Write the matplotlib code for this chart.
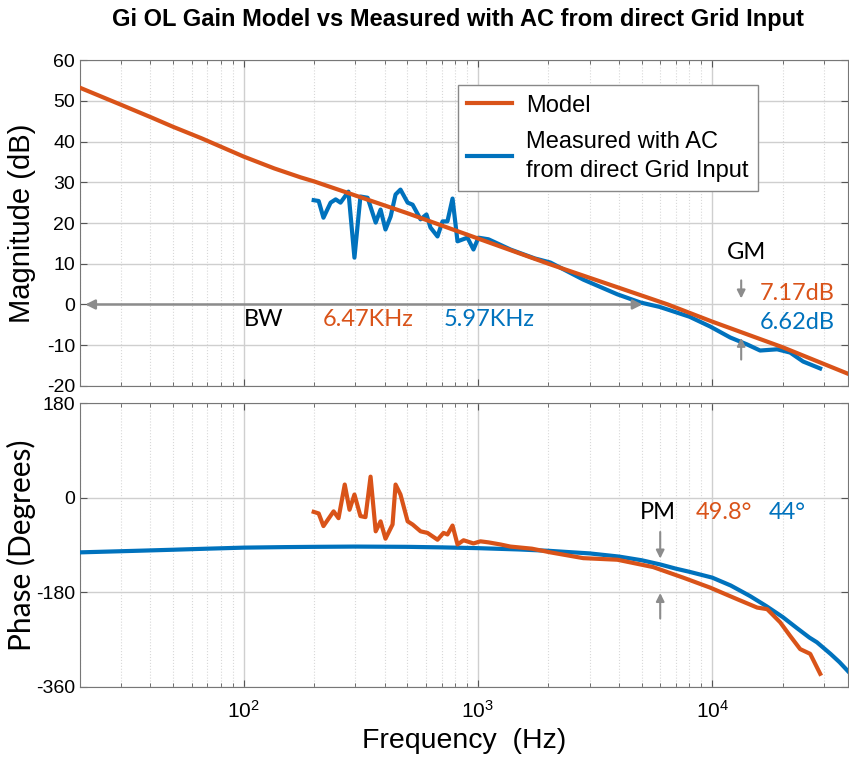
import matplotlib
matplotlib.use('Agg')
import matplotlib.pyplot as plt
from matplotlib.ticker import FixedLocator

# warna ala matlab
ORANGE = '#D95319'
BLUE = '#0072BD'
GREY = '#8c8c8c'

# magnitude model (dB)
f_model_mag = [20, 30, 40, 50, 66, 100, 135, 175, 200, 500, 1000, 2000, 5000, 6470, 10000, 20000, 38000]
mag_model = [53.2, 49.0, 46.0, 43.6, 40.8, 36.3, 33.4, 31.2, 30.2, 22.4, 16.2, 10.0, 2.2, 0, -4.2, -10.5, -17]

# magnitude measured (dB)
f_meas_mag = [199, 209, 219, 235, 247, 259, 280, 297, 315, 338, 366, 384, 403, 424,
              445, 467, 501, 526, 569, 603, 627, 672, 706, 741, 779, 818, 902, 957,
              1005, 1109, 1376, 1550, 1750, 2038, 2818, 3936, 4932, 5970, 8000,
              9800, 11940, 14090, 16020, 18940, 21520, 24450, 28900]
mag_meas = [25.6, 25.4, 21.3, 25.0, 25.8, 25.0, 27.7, 11.5, 26.5, 26.2, 20.1, 23.3, 18.4, 21.6,
            27.0, 28.2, 25.0, 24.5, 20.9, 22.1, 18.9, 16.7, 20.4, 20.4, 26.0, 15.5, 16.4, 13.5,
            16.4, 16.0, 13.5, 12.4, 11.3, 10.3, 6.1, 2.5, 0.5, -0.6, -3.0,
            -5.4, -8.1, -9.8, -11.3, -11.0, -11.8, -14.0, -15.7]

# phase model (deg)
f_model_ph = [20, 35, 50, 70, 100, 150, 200, 300, 500, 700, 1000, 1500, 2000, 3000,
              4000, 5000, 6000, 7000, 8000, 10000, 12000, 14500, 17000, 20000, 23000,
              26000, 28000, 32000, 35000, 38000]
ph_model = [-104, -101, -99, -97, -95, -94, -93.5, -93, -93.5, -94.5, -96, -98.5, -101, -106,
            -112, -119, -127, -135, -141, -152, -167, -187, -206, -227, -248,
            -266, -275, -297, -313, -330]

# phase measured (deg)
f_meas_ph = [199, 209, 219, 242, 254, 270, 283, 297, 315, 331, 348, 366, 384, 403,
             432, 445, 467, 501, 526, 569, 609, 672, 713, 741, 779, 818, 868, 957,
             1025, 1109, 1248, 1376, 1700, 2038, 2817, 3936, 5599, 7512, 9797, 12780,
             15560, 17170, 19510, 21530, 23750, 26210, 28920]
ph_meas = [-27, -30, -54, -26, -39, 25, -23, 6, -35, -37, 40, -64, -45, -78,
           -51, 25, 6, -45, -51, -64, -67, -80, -67, -70, -53, -89, -81, -87,
           -83, -85, -89, -93, -97, -104, -115, -118, -132, -152, -171, -193,
           -209, -212, -237, -263, -288, -297, -335]

plt.rcParams['font.family'] = ['Liberation Sans', 'DejaVu Sans']
plt.rcParams['axes.unicode_minus'] = False

fig = plt.figure(figsize=(8.49, 7.58), dpi=100)
ax1 = fig.add_axes([0.0942, 0.4908, 0.9046, 0.4300])
ax2 = fig.add_axes([0.0942, 0.0937, 0.9046, 0.3746], sharex=ax1)

ax1.plot(f_model_mag, mag_model, color=ORANGE, lw=3, label='Model', zorder=4)
ax1.plot(f_meas_mag, mag_meas, color=BLUE, lw=3,
         label='Measured with AC\nfrom direct Grid Input', zorder=3)
ax2.plot(f_model_ph, ph_model, color=BLUE, lw=3, zorder=3)
ax2.plot(f_meas_ph, ph_meas, color=ORANGE, lw=3, zorder=4)

for ax in (ax1, ax2):
    ax.set_xscale('log')
    ax.set_xlim(20, 38000)
    ax.grid(True, which='major', color='#cfcfcf', lw=1, ls='-')
    ax.grid(True, which='minor', axis='x', color='#d8d8d8', lw=0.8, ls=':')
    ax.tick_params(which='both', direction='in', top=True, right=True,
                   colors='#555555', labelcolor='black', labelsize=14)
    ax.tick_params(which='major', length=5)
    ax.tick_params(which='minor', length=3)
    for s in ax.spines.values():
        s.set_color('#777777')

ax1.set_ylim(-20, 60)
ax1.yaxis.set_major_locator(FixedLocator([-20, -10, 0, 10, 20, 30, 40, 50, 60]))
ax1.tick_params(labelbottom=False)
ax2.set_ylim(-360, 180)
ax2.yaxis.set_major_locator(FixedLocator([-360, -180, 0, 180]))
ax2.tick_params(axis='x', which='major', pad=9, labelsize=15)

ax1.set_ylabel('Magnitude (dB)', fontsize=21)
ax2.set_ylabel('Phase (Degrees)', family='Lato', fontsize=21.5)
ax1.yaxis.set_label_coords(-0.057, 0.5)
ax2.yaxis.set_label_coords(-0.057, 0.5)
ax2.set_xlabel('Frequency  (Hz)', fontsize=20.5, labelpad=5)
fig.suptitle('Gi OL Gain Model vs Measured with AC from direct Grid Input',
             fontsize=17, fontweight='bold', x=0.54, y=0.99)

leg = ax1.legend(loc='upper left', bbox_to_anchor=(0.492, 0.923), fontsize=17,
                 frameon=True, fancybox=False, framealpha=1, edgecolor='#888888',
                 handlelength=1.9, handletextpad=0.6, borderpad=0.4, labelspacing=0.6,
                 borderaxespad=0)
leg.get_texts()[1].set_linespacing(1.4)

# anotasi BW
ax1.annotate('', xy=(20.5, 0), xytext=(5180, 0),
             arrowprops=dict(arrowstyle='<|-|>', color=GREY, lw=1.8, mutation_scale=14))
tf = dict(family='Lato', fontsize=17, ha='center', va='center')
ax1.text(122, -3.7, 'BW', color='black', **tf)
ax1.text(341, -3.7, '6.47KHz', color=ORANGE, **tf)
ax1.text(1119, -3.7, '5.97KHz', color=BLUE, **tf)

# anotasi GM
ax1.text(14000, 12.8, 'GM', color='black', **tf)
ax1.text(23000, 2.8, '7.17dB', color=ORANGE, **tf)
ax1.text(23000, -4.4, '6.62dB', color=BLUE, **tf)
ax1.annotate('', xy=(13300, 0.8), xytext=(13300, 6.6),
             arrowprops=dict(arrowstyle='-|>', color=GREY, lw=1.5, mutation_scale=12))
ax1.annotate('', xy=(13300, -7.5), xytext=(13300, -14.2),
             arrowprops=dict(arrowstyle='-|>', color=GREY, lw=1.5, mutation_scale=12))

# anotasi PM
ax2.text(5890, -28, 'PM', color='black', **tf)
ax2.text(11250, -28, '49.8°', color=ORANGE, **tf)
ax2.text(20900, -28, '44°', color=BLUE, **tf)
ax2.annotate('', xy=(6000, -121), xytext=(6000, -60),
             arrowprops=dict(arrowstyle='-|>', color=GREY, lw=1.5, mutation_scale=12))
ax2.annotate('', xy=(6000, -176), xytext=(6000, -235),
             arrowprops=dict(arrowstyle='-|>', color=GREY, lw=1.5, mutation_scale=12))

fig.savefig('out.png', dpi=100)
